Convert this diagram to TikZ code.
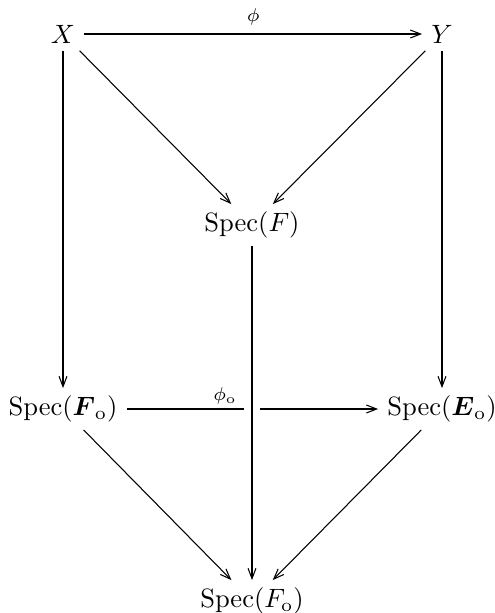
\documentclass[tikz,border=0pt]{standalone}
\usepackage{amsmath}
\usetikzlibrary{arrows.meta}
\begin{document}
\begin{tikzpicture}[x=0.3774pt,y=-0.3774pt,
  obj/.style={inner xsep=3.3pt, inner ysep=2.7pt},
  arr/.style={-{Straight Barb[length=3.9pt,width=3pt]}, line width=0.4pt},
  lbl/.style={font=\scriptsize}]
\useasboundingbox (0,0) rectangle (495,613);
\node[obj] (X) at (63,34) {$X$};
\node[obj] (Y) at (442,34) {$Y$};
\node[obj] (SF) at (252,225) {$\mathrm{Spec}(F)$};
\node[obj] (SFb) at (63,409) {$\mathrm{Spec}(\boldsymbol{F}_{\mathrm{o}})$};
\node[obj] (SEb) at (442,409) {$\mathrm{Spec}(\boldsymbol{E}_{\mathrm{o}})$};
\node[obj] (SFo) at (252,601) {$\mathrm{Spec}(F_{\mathrm{o}})$};
\draw[arr] (X) -- node[lbl, above] {$\phi$} (Y);
\draw[arr] (X) -- (SF);
\draw[arr] (Y) -- (SF);
\draw[arr] (X) -- (SFb);
\draw[arr] (Y) -- (SEb);
\draw[arr] (SFb) -- (SEb);
\node[lbl] (phio) at (225,396) {$\phi_{\mathrm{o}}$};
\draw[arr, preaction={-, draw=white, line width=5.7pt}] (SF) -- (SFo);
\draw[arr] (SFb) -- (SFo);
\draw[arr] (SEb) -- (SFo);
\end{tikzpicture}
\end{document}
